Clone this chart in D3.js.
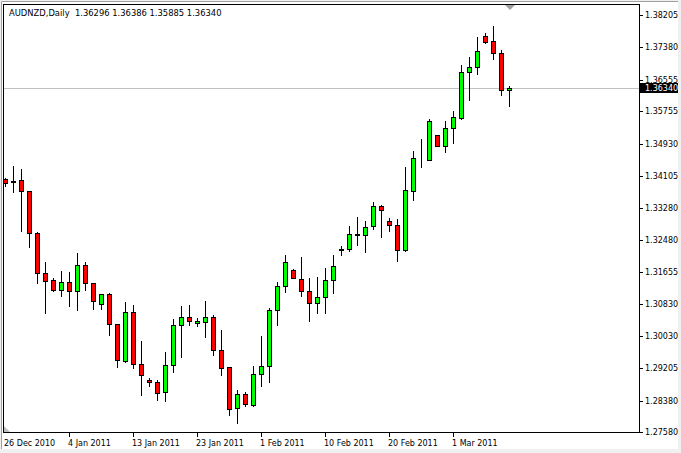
<!DOCTYPE html>
<html>
<head>
<meta charset="utf-8">
<script src="https://cdn.jsdelivr.net/npm/d3@7"></script>
<style>
  html, body { margin: 0; padding: 0; background: #f0f0f0; }
  svg { display: block; }
  text { font-family: "DejaVu Sans", Tahoma, sans-serif; font-size: 8px; fill: #000; }
  text.header { font-size: 8.4px; white-space: pre; }
</style>
</head>
<body>
<div id="chart"></div>
<script>
// AUDNZD daily candles, 26 Dec 2010 .. 9 Mar 2011 (Sunday bars included)
const symbol = "AUDNZD,Daily";

const dates = [
  "2010-12-26", "2010-12-27", "2010-12-28", "2010-12-29", "2010-12-30", "2010-12-31",
  "2011-01-02", "2011-01-03", "2011-01-04", "2011-01-05", "2011-01-06", "2011-01-07",
  "2011-01-09", "2011-01-10", "2011-01-11", "2011-01-12", "2011-01-13", "2011-01-14",
  "2011-01-16", "2011-01-17", "2011-01-18", "2011-01-19", "2011-01-20", "2011-01-21",
  "2011-01-23", "2011-01-24", "2011-01-25", "2011-01-26", "2011-01-27", "2011-01-28",
  "2011-01-30", "2011-01-31", "2011-02-01", "2011-02-02", "2011-02-03", "2011-02-04",
  "2011-02-06", "2011-02-07", "2011-02-08", "2011-02-09", "2011-02-10", "2011-02-11",
  "2011-02-13", "2011-02-14", "2011-02-15", "2011-02-16", "2011-02-17", "2011-02-18",
  "2011-02-20", "2011-02-21", "2011-02-22", "2011-02-23", "2011-02-24", "2011-02-25",
  "2011-02-27", "2011-02-28", "2011-03-01", "2011-03-02", "2011-03-03", "2011-03-04",
  "2011-03-06", "2011-03-07", "2011-03-08", "2011-03-09",
];

const open = [
  1.34018, 1.33942, 1.33993, 1.33713, 1.32650, 1.31623, 1.31445, 1.31190,
  1.31394, 1.31165, 1.31827, 1.31369, 1.30833, 1.31088, 1.30324, 1.29396,
  1.30630, 1.29305, 1.28905, 1.28846, 1.28591, 1.29279, 1.30298, 1.30502,
  1.30349, 1.30390, 1.30502, 1.29661, 1.29228, 1.28184, 1.28540, 1.28268,
  1.29050, 1.29254, 1.30681, 1.31292, 1.31700, 1.31470, 1.31165, 1.30859,
  1.31012, 1.31445, 1.32230, 1.32235, 1.32600, 1.32592, 1.32821, 1.33331,
  1.32948, 1.32846, 1.32209, 1.33728, 1.34550, 1.34518, 1.35140, 1.34875,
  1.35318, 1.35588, 1.36745, 1.36872, 1.37662, 1.37535, 1.37229, 1.36296,
];

const high = [
  1.34044, 1.34357, 1.34281, 1.33720, 1.32676, 1.31911, 1.31504, 1.31682,
  1.31656, 1.32141, 1.31904, 1.31375, 1.31095, 1.31114, 1.30330, 1.30884,
  1.30816, 1.29898, 1.28948, 1.28905, 1.29618, 1.30459, 1.30790, 1.30816,
  1.30477, 1.30918, 1.30561, 1.30179, 1.29244, 1.28650, 1.28591, 1.29261,
  1.30026, 1.30732, 1.31397, 1.32090, 1.31733, 1.32039, 1.31496, 1.31521,
  1.31751, 1.32090, 1.32319, 1.32829, 1.33058, 1.32956, 1.33440, 1.33371,
  1.33025, 1.32999, 1.34340, 1.34740, 1.35038, 1.35555, 1.35140, 1.35496,
  1.35759, 1.36931, 1.37127, 1.37644, 1.37739, 1.37925, 1.37305, 1.36386,
];

const low = [
  1.33848, 1.33703, 1.32709, 1.32301, 1.31384, 1.30619, 1.31185, 1.31053,
  1.30798, 1.30696, 1.31190, 1.30721, 1.30721, 1.30051, 1.29244, 1.29371,
  1.29218, 1.28522, 1.28759, 1.28395, 1.28377, 1.29108, 1.29498, 1.30314,
  1.30288, 1.29990, 1.29549, 1.29040, 1.28020, 1.27817, 1.28242, 1.28250,
  1.28752, 1.28861, 1.30306, 1.31155, 1.31496, 1.31053, 1.30416, 1.30619,
  1.30619, 1.31129, 1.32090, 1.32199, 1.32344, 1.32174, 1.32760, 1.32556,
  1.32709, 1.31937, 1.32200, 1.33499, 1.34340, 1.34510, 1.34875, 1.34722,
  1.34951, 1.35555, 1.36047, 1.36709, 1.37499, 1.37091, 1.36174, 1.35885,
];

const close = [
  1.33917, 1.33983, 1.33713, 1.32643, 1.31623, 1.31420, 1.31190, 1.31394,
  1.31165, 1.31827, 1.31369, 1.30910, 1.31088, 1.30324, 1.29407, 1.30630,
  1.29305, 1.29024, 1.28846, 1.28566, 1.29279, 1.30298, 1.30502, 1.30416,
  1.30400, 1.30502, 1.29677, 1.29203, 1.28158, 1.28540, 1.28285, 1.29050,
  1.29254, 1.30681, 1.31295, 1.31911, 1.31496, 1.31165, 1.30859, 1.31012,
  1.31445, 1.31802, 1.32240, 1.32617, 1.32620, 1.32795, 1.33331, 1.33229,
  1.32846, 1.32209, 1.33738, 1.34554, 1.34560, 1.35496, 1.34875, 1.35318,
  1.35598, 1.36745, 1.36872, 1.37280, 1.37525, 1.37229, 1.36301, 1.36340,
];

const priceTicks = [
  "1.38205", "1.37380", "1.36555", "1.35755", "1.34930", "1.34105", "1.33280",
  "1.32480", "1.31655", "1.30830", "1.30030", "1.29205", "1.28380", "1.27580",
];

// a date label every 8 bars
const dateTickIndex = [0, 8, 16, 24, 32, 40, 48, 56];

const width = 681;
const height = 453;
const plot = { left: 3, top: 4, right: 639, bottom: 432 };

const parse = d3.timeParse("%Y-%m-%d");
const fmtDate = d3.timeFormat("%-d %b %Y");
const fmtPrice = d3.format(".5f");

const bars = dates.map((d, i) => ({
  i,
  date: parse(d),
  o: open[i],
  h: high[i],
  l: low[i],
  c: close[i],
}));
const last = bars[bars.length - 1];

const x = d3.scaleLinear().domain([0, 63]).range([5, 509]);
const y = d3.scaleLinear().domain([1.2758, 1.38205]).range([432, 15]);
const px = (v) => Math.round(x(v));
const py = (v) => Math.round(y(v));

const svg = d3
  .select("#chart")
  .append("svg")
  .attr("width", width)
  .attr("height", height);

// window background and sunken edge
svg.append("rect").attr("width", width).attr("height", height).attr("fill", "#f0f0f0");
svg
  .append("rect")
  .attr("x", 1)
  .attr("y", 1)
  .attr("width", 677)
  .attr("height", 448)
  .attr("fill", "#fff");
svg
  .append("path")
  .attr("d", "M1.5,449V1.5H678")
  .attr("fill", "none")
  .attr("stroke", "#a0a0a0");

svg
  .append("clipPath")
  .attr("id", "plot-clip")
  .append("rect")
  .attr("x", plot.left)
  .attr("y", plot.top)
  .attr("width", plot.right - plot.left)
  .attr("height", plot.bottom - plot.top);

const g = svg.append("g").attr("clip-path", "url(#plot-clip)");

// current bid line
g.append("line")
  .attr("x1", plot.left)
  .attr("x2", plot.right)
  .attr("y1", py(last.c) + 0.5)
  .attr("y2", py(last.c) + 0.5)
  .attr("stroke", "#c0c0c0");

const candle = g
  .selectAll("g.candle")
  .data(bars)
  .join("g")
  .attr("class", "candle");

candle
  .append("line")
  .attr("x1", (d) => px(d.i) + 0.5)
  .attr("x2", (d) => px(d.i) + 0.5)
  .attr("y1", (d) => py(d.h))
  .attr("y2", (d) => py(d.l) + 1)
  .attr("stroke", "#000");

candle
  .append("rect")
  .attr("x", (d) => px(d.i) - 1.5)
  .attr("y", (d) => Math.min(py(d.o), py(d.c)) + 0.5)
  .attr("width", 4)
  .attr("height", (d) => Math.abs(py(d.o) - py(d.c)))
  .attr("fill", (d) => (d.c >= d.o ? "#00ff00" : "#ff0000"))
  .attr("stroke", "#000");

// shift marker at the top and the corner marker
svg
  .append("path")
  .attr("d", `M${px(63) - 4},5H${px(63) + 6}L${px(63) + 1},10Z`)
  .attr("fill", "#a0a0a0");
svg
  .append("path")
  .attr("d", `M${plot.left + 1},${plot.bottom - 6}V${plot.bottom}H${plot.left + 7}Z`)
  .attr("fill", "#c0c0c0");

// frame
svg
  .append("rect")
  .attr("x", plot.left + 0.5)
  .attr("y", plot.top + 0.5)
  .attr("width", plot.right - plot.left)
  .attr("height", plot.bottom - plot.top)
  .attr("fill", "none")
  .attr("stroke", "#000");

// price axis
const yTick = svg
  .selectAll("g.ytick")
  .data(priceTicks)
  .join("g")
  .attr("class", "ytick")
  .attr("transform", (d) => `translate(0,${py(+d) + 0.5})`);
yTick
  .append("line")
  .attr("x1", plot.right + 1)
  .attr("x2", plot.right + 4)
  .attr("stroke", "#000");
yTick
  .append("text")
  .attr("x", plot.right + 6)
  .attr("dy", "0.33em")
  .text((d) => d);

// date axis
const xTick = svg
  .selectAll("g.xtick")
  .data(dateTickIndex)
  .join("g")
  .attr("class", "xtick")
  .attr("transform", (d) => `translate(${px(d)},0)`);
xTick
  .filter((d) => d > 0)
  .append("line")
  .attr("x1", 0.5)
  .attr("x2", 0.5)
  .attr("y1", plot.bottom + 1)
  .attr("y2", plot.bottom + 5)
  .attr("stroke", "#000");
xTick
  .append("text")
  .attr("x", -1)
  .attr("y", 446)
  .text((d) => fmtDate(bars[d].date));

// bid label box
svg
  .append("rect")
  .attr("x", plot.right + 1)
  .attr("y", py(last.c) - 5)
  .attr("width", 38)
  .attr("height", 10)
  .attr("fill", "#000");
svg
  .append("text")
  .attr("x", plot.right + 6)
  .attr("y", py(last.c) + 0.5)
  .attr("dy", "0.33em")
  .style("fill", "#fff")
  .text(fmtPrice(last.c));

// header
svg
  .append("text")
  .attr("class", "header")
  .attr("x", 9)
  .attr("y", 16)
  .text(`${symbol}  ${[last.o, last.h, last.l, last.c].map(fmtPrice).join(" ")}`);
</script>
</body>
</html>
